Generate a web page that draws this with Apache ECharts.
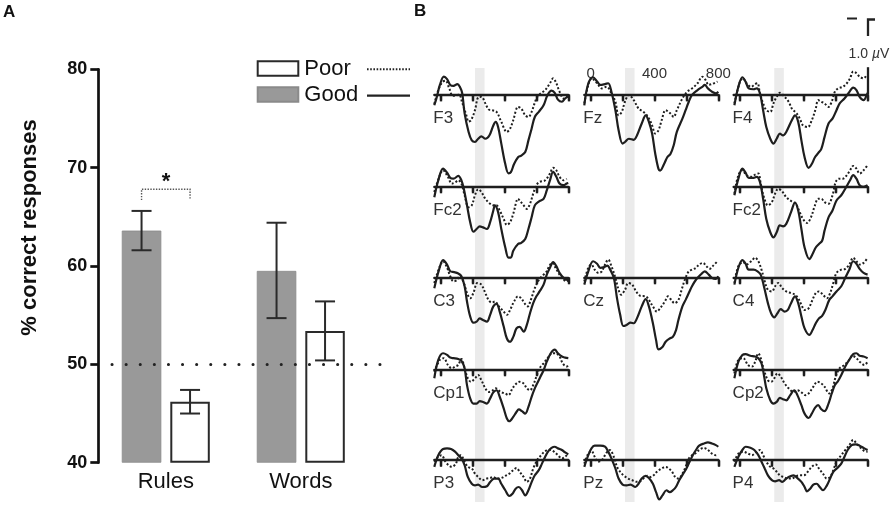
<!DOCTYPE html>
<html><head><meta charset="utf-8">
<script src="https://cdn.jsdelivr.net/npm/echarts@6/dist/echarts.min.js"></script>
<style>html,body{margin:0;padding:0;background:#fff}#c{width:892px;height:505px}</style>
</head><body><div id="c"></div>
<script>
// ================= Panel A data =================
const categories = ['Rules', 'Words'];
const goodMeans = [63.6, 59.5];
const poorMeans = [46.2, 53.4];
const goodErrLow = [61.6, 54.7];
const goodErrHigh = [65.6, 64.4];
const poorErrLow = [45.0, 50.4];
const poorErrHigh = [47.4, 56.4];
const chanceLevel = 50;
const sigBracket = [67.8, 66.7]; // bracket top, bracket feet (Rules)

// ================= Panel B data (time in ms, amplitude in µV) =================
const erpTickTimes = [0, 200, 400, 600, 800];
const erpTimeLabels = [0, 400, 800];
const shadedWindow = [215, 275];
const scaleBarMicroV = 1.0;

const F3_good = [[-40,-0.40],[-25,-0.11],[-5,0.35],[20,0.65],[40,0.56],[60,0.35],[80,0.31],[105,0.38],[120,0.28],[135,0.04],[150,-0.70],[175,-1.38],[195,-1.69],[215,-1.75],[235,-1.63],[255,-1.54],[280,-1.63],[305,-1.51],[330,-1.14],[345,-1.01],[360,-1.20],[380,-1.81],[405,-2.56],[425,-2.90],[440,-2.86],[460,-2.56],[485,-2.31],[505,-2.25],[530,-2.12],[550,-1.69],[570,-1.26],[590,-0.83],[615,-0.64],[645,-0.40],[670,-0.02],[695,0.14],[715,0.06],[735,-0.19],[760,-0.27],[780,-0.15],[800,-0.06]];
const F3_poor = [[-40,-0.35],[-15,0.15],[10,0.45],[30,0.5],[55,0.2],[75,-0.05],[95,-0.05],[115,0.0],[135,-0.3],[160,-0.75],[175,-1.0],[190,-0.95],[215,-0.58],[235,-0.11],[255,-0.09],[280,-0.33],[300,-0.55],[320,-0.58],[350,-0.64],[380,-1.01],[415,-1.38],[435,-1.26],[455,-0.95],[485,-0.46],[505,-0.52],[530,-0.77],[550,-0.83],[570,-0.64],[600,-0.15],[620,0.0],[655,0.16],[685,0.41],[705,0.59],[725,0.41],[745,0.10],[770,-0.15],[790,-0.09],[800,-0.05]];
const Fz_good = [[-40,-0.40],[-15,0.40],[15,0.63],[40,0.47],[60,0.35],[90,0.38],[110,0.41],[130,0.10],[155,-0.58],[175,-1.32],[200,-1.81],[215,-1.75],[240,-1.63],[270,-1.67],[290,-1.51],[320,-1.07],[345,-0.77],[365,-1.01],[385,-1.44],[405,-2.19],[425,-2.74],[435,-2.80],[460,-2.56],[480,-2.31],[500,-2.19],[520,-1.88],[540,-1.38],[575,-0.89],[595,-0.58],[615,-0.27],[635,-0.02],[670,0.16],[700,0.28],[715,0.35],[735,0.22],[760,0.10],[785,0.04],[800,0.10]];
const Fz_poor = [[-40,-0.33],[-15,0.35],[5,0.59],[40,0.41],[70,0.22],[100,0.28],[130,0.04],[155,-0.27],[175,-0.77],[195,-0.64],[215,-0.27],[240,-0.02],[270,-0.21],[300,-0.52],[330,-0.64],[360,-0.83],[385,-1.14],[405,-1.44],[425,-1.32],[445,-0.95],[470,-0.58],[500,-0.70],[520,-0.83],[540,-0.58],[575,-0.15],[605,0.10],[635,0.22],[670,0.41],[700,0.65],[720,0.53],[740,0.35],[760,0.38],[795,0.47]];
const F4_good = [[-35,-0.40],[-10,0.28],[15,0.63],[35,0.47],[55,0.22],[85,0.19],[105,0.22],[125,0.04],[145,-0.58],[165,-1.20],[190,-1.63],[210,-1.81],[230,-1.63],[250,-1.44],[270,-1.51],[290,-1.38],[325,-0.95],[345,-0.77],[365,-1.01],[385,-1.69],[405,-2.31],[430,-2.70],[450,-2.56],[470,-2.31],[490,-2.16],[510,-2.0],[530,-1.57],[555,-1.07],[580,-0.89],[605,-0.58],[625,-0.33],[655,-0.15],[680,0.04],[710,0.25],[730,0.16],[750,-0.09],[775,-0.21],[795,-0.02],[800,0.06]];
const F4_poor = [[-35,-0.33],[0,0.47],[20,0.59],[40,0.41],[70,0.28],[95,0.38],[110,0.41],[125,0.04],[145,-0.33],[165,-0.58],[190,-0.64],[210,-0.33],[230,-0.09],[250,0.06],[280,-0.09],[305,-0.27],[325,-0.52],[355,-0.70],[375,-0.89],[395,-1.14],[425,-1.20],[450,-0.95],[475,-0.52],[490,-0.21],[510,-0.27],[530,-0.33],[555,-0.46],[575,-0.27],[595,0.10],[615,0.22],[645,0.28],[670,0.41],[690,0.59],[710,0.84],[730,0.78],[750,0.65],[775,0.59],[795,0.72]];
const Fc2L_good = [[-40,-0.40],[-15,0.22],[15,0.65],[40,0.50],[60,0.31],[80,0.28],[110,0.38],[130,0.22],[145,-0.09],[165,-0.70],[185,-1.32],[205,-1.67],[225,-1.57],[245,-1.47],[265,-1.51],[290,-1.57],[310,-1.32],[330,-0.89],[340,-0.70],[360,-0.95],[380,-1.57],[405,-2.25],[425,-2.62],[440,-2.62],[455,-2.37],[485,-2.12],[505,-2.08],[530,-1.94],[550,-1.57],[570,-1.14],[590,-0.70],[615,-0.56],[645,-0.46],[665,-0.15],[685,0.22],[705,0.53],[725,0.35],[745,0.10],[770,0.04],[790,0.10],[800,0.12]];
const Fc2L_poor = [[-40,-0.21],[-5,0.41],[15,0.59],[45,0.35],[70,0.10],[90,0.14],[110,0.22],[130,0.10],[150,-0.33],[175,-0.77],[195,-0.70],[215,-0.33],[235,-0.11],[255,-0.21],[280,-0.46],[310,-0.64],[330,-0.70],[350,-0.70],[370,-0.89],[395,-1.20],[415,-1.42],[435,-1.32],[455,-1.01],[485,-0.46],[495,-0.52],[520,-0.70],[540,-0.83],[560,-0.64],[580,-0.27],[600,0.04],[620,0.16],[655,0.22],[685,0.47],[705,0.68],[725,0.59],[745,0.35],[770,0.22],[790,0.28]];
const Fc2R_good = [[-35,-0.33],[-10,0.28],[15,0.65],[35,0.50],[55,0.31],[85,0.31],[105,0.35],[125,0.16],[145,-0.46],[165,-1.20],[190,-1.69],[210,-1.88],[230,-1.69],[250,-1.44],[270,-1.47],[290,-1.38],[320,-0.95],[345,-0.60],[365,-0.89],[385,-1.57],[405,-2.25],[435,-2.68],[455,-2.49],[475,-2.25],[495,-2.12],[515,-2.0],[530,-1.63],[555,-1.14],[580,-0.89],[605,-0.52],[635,-0.33],[660,-0.09],[690,0.22],[710,0.41],[730,0.28],[750,0.04],[775,-0.02],[800,0.04]];
const Fc2R_poor = [[-35,-0.27],[-10,0.41],[15,0.59],[40,0.41],[70,0.35],[95,0.43],[115,0.47],[130,0.10],[150,-0.40],[175,-0.70],[200,-0.58],[220,-0.27],[240,-0.09],[265,-0.19],[290,-0.40],[325,-0.56],[350,-0.64],[370,-0.89],[395,-1.20],[420,-1.35],[445,-1.14],[470,-0.70],[490,-0.46],[510,-0.46],[530,-0.58],[555,-0.64],[580,-0.33],[600,0.16],[620,0.28],[645,0.28],[670,0.41],[690,0.59],[710,0.75],[730,0.65],[750,0.47],[775,0.59],[800,0.78]];
const C3_good = [[-40,-0.40],[-10,0.28],[15,0.63],[40,0.47],[60,0.22],[85,0.19],[110,0.14],[130,0.04],[150,-0.33],[165,-0.89],[185,-1.44],[205,-1.67],[225,-1.63],[245,-1.51],[265,-1.57],[290,-1.63],[310,-1.38],[330,-1.07],[350,-0.98],[370,-1.26],[395,-1.81],[415,-2.25],[435,-2.37],[455,-2.19],[475,-1.88],[495,-1.82],[520,-2.0],[540,-1.75],[560,-1.32],[580,-0.95],[600,-0.70],[620,-0.52],[645,-0.27],[665,0.10],[685,0.35],[705,0.56],[725,0.41],[745,0.16],[770,-0.02],[790,-0.09],[800,-0.09]];
const C3_poor = [[-40,-0.21],[-5,0.41],[15,0.59],[40,0.35],[60,0.04],[80,-0.15],[100,-0.11],[120,0.04],[145,-0.21],[165,-0.58],[185,-0.77],[205,-0.58],[230,-0.21],[255,-0.27],[280,-0.58],[300,-0.83],[320,-0.93],[340,-0.89],[365,-1.07],[395,-1.26],[415,-1.38],[435,-1.20],[460,-0.89],[485,-0.70],[505,-0.77],[525,-0.95],[545,-1.07],[565,-0.83],[590,-0.40],[610,-0.15],[635,0.04],[665,0.22],[680,0.41],[700,0.53],[720,0.35],[745,0.10],[765,-0.02],[785,-0.15],[800,-0.11]];
const Cz_good = [[-40,-0.27],[-15,0.22],[15,0.59],[40,0.50],[60,0.35],[85,0.38],[105,0.43],[120,0.31],[145,-0.02],[165,-0.77],[185,-1.38],[205,-1.79],[225,-1.75],[250,-1.67],[270,-1.69],[290,-1.51],[320,-1.07],[345,-0.80],[365,-1.07],[390,-1.69],[410,-2.31],[425,-2.65],[450,-2.56],[470,-2.37],[495,-2.25],[515,-2.19],[535,-1.94],[550,-1.57],[575,-1.07],[595,-0.83],[615,-0.58],[635,-0.33],[660,-0.09],[690,0.10],[715,0.22],[740,0.10],[760,-0.02],[785,-0.06],[800,0.04]];
const Cz_poor = [[-40,-0.15],[-15,0.35],[5,0.47],[25,0.28],[50,0.16],[70,0.22],[90,0.47],[110,0.65],[130,0.41],[155,-0.02],[175,-0.46],[190,-0.64],[215,-0.46],[235,-0.21],[260,-0.27],[285,-0.52],[310,-0.68],[345,-0.70],[365,-0.83],[390,-1.07],[415,-1.26],[435,-1.14],[465,-0.89],[485,-0.70],[505,-0.83],[525,-0.95],[550,-0.83],[570,-0.46],[590,-0.09],[615,0.22],[635,0.28],[660,0.35],[680,0.47],[705,0.53],[725,0.41],[745,0.31],[765,0.41],[795,0.59]];
const C4_good = [[-35,-0.27],[-10,0.35],[15,0.63],[35,0.50],[55,0.28],[85,0.28],[110,0.22],[130,0.10],[150,-0.33],[175,-0.95],[195,-1.32],[215,-1.47],[235,-1.32],[255,-1.17],[280,-1.26],[300,-1.20],[320,-0.95],[345,-0.70],[365,-0.95],[385,-1.44],[405,-1.88],[435,-2.12],[455,-1.94],[475,-1.69],[495,-1.51],[515,-1.42],[535,-1.20],[560,-0.83],[580,-0.70],[605,-0.52],[635,-0.33],[660,-0.02],[685,0.28],[710,0.59],[730,0.50],[750,0.31],[775,0.16],[800,0.10]];
const C4_poor = [[-35,-0.21],[-10,0.41],[20,0.56],[40,0.47],[70,0.59],[95,0.72],[115,0.59],[135,0.28],[155,-0.15],[175,-0.46],[200,-0.52],[220,-0.33],[240,-0.21],[265,-0.40],[290,-0.52],[320,-0.58],[345,-0.64],[365,-0.77],[385,-1.01],[405,-1.20],[430,-1.14],[450,-0.89],[475,-0.58],[495,-0.52],[520,-0.64],[545,-0.77],[565,-0.58],[585,-0.21],[605,0.16],[635,0.28],[660,0.31],[685,0.47],[710,0.72],[730,0.59],[750,0.47],[775,0.53],[800,0.72]];
const Cp1_good = [[-40,-0.33],[-15,0.35],[15,0.59],[40,0.53],[60,0.43],[80,0.41],[110,0.38],[130,0.31],[150,0.04],[165,-0.58],[185,-1.07],[205,-1.26],[225,-1.26],[245,-1.17],[265,-1.20],[290,-1.26],[310,-1.07],[330,-0.85],[350,-0.77],[370,-1.01],[395,-1.44],[415,-1.81],[430,-1.91],[455,-1.75],[475,-1.57],[490,-1.47],[510,-1.54],[530,-1.63],[550,-1.38],[570,-1.01],[590,-0.70],[610,-0.46],[625,-0.27],[645,-0.04],[665,0.28],[690,0.59],[715,0.72],[735,0.59],[760,0.47],[780,0.43],[800,0.41]];
const Cp1_poor = [[-40,-0.09],[-5,0.35],[20,0.41],[45,0.16],[70,0.04],[90,0.10],[110,0.16],[130,0.38],[150,0.04],[170,-0.33],[190,-0.46],[215,-0.33],[235,-0.21],[255,-0.40],[280,-0.70],[300,-0.83],[320,-0.80],[345,-0.70],[375,-0.83],[405,-0.89],[425,-0.95],[450,-0.70],[475,-0.52],[495,-0.46],[520,-0.52],[540,-0.70],[560,-0.77],[580,-0.58],[600,-0.27],[620,0.04],[645,0.22],[670,0.41],[700,0.59],[720,0.59],[745,0.47],[765,0.22],[790,0.10],[800,0.16]];
const Cp2_good = [[-35,-0.33],[-10,0.28],[15,0.53],[35,0.56],[65,0.50],[95,0.47],[115,0.41],[135,0.22],[150,-0.21],[165,-0.70],[190,-1.14],[210,-1.26],[230,-1.20],[250,-1.05],[270,-1.10],[290,-1.14],[315,-0.95],[340,-0.77],[360,-0.95],[385,-1.32],[405,-1.63],[430,-1.79],[450,-1.63],[470,-1.42],[490,-1.32],[510,-1.47],[530,-1.54],[555,-1.26],[575,-0.89],[595,-0.58],[615,-0.43],[635,-0.21],[660,0.10],[685,0.35],[710,0.56],[730,0.59],[750,0.50],[775,0.47],[800,0.41]];
const Cp2_poor = [[-35,-0.15],[-10,0.35],[20,0.41],[50,0.16],[75,0.10],[95,0.28],[115,0.59],[130,0.41],[150,-0.02],[175,-0.40],[195,-0.46],[215,-0.33],[235,-0.15],[255,-0.27],[280,-0.52],[305,-0.70],[335,-0.83],[360,-0.77],[385,-0.85],[410,-0.95],[430,-0.89],[460,-0.64],[485,-0.46],[510,-0.52],[530,-0.64],[560,-0.89],[580,-0.70],[600,-0.27],[625,0.04],[655,0.16],[685,0.35],[705,0.50],[730,0.41],[750,0.28],[780,0.16],[800,0.28]];
const P3_good = [[-40,-0.26],[-15,0.17],[15,0.40],[40,0.42],[65,0.40],[90,0.30],[110,0.17],[130,0.05],[150,-0.20],[170,-0.63],[195,-0.88],[215,-0.94],[235,-0.91],[260,-1.0],[290,-0.97],[310,-0.82],[335,-0.69],[360,-0.69],[380,-0.88],[405,-1.12],[430,-1.33],[450,-1.25],[470,-1.06],[490,-1.0],[510,-1.12],[530,-1.31],[550,-1.12],[570,-0.82],[590,-0.57],[615,-0.38],[635,-0.14],[655,0.11],[675,0.32],[695,0.44],[715,0.48],[735,0.42],[760,0.36],[780,0.27],[800,0.20]];
const P3_poor = [[-40,-0.07],[-15,0.11],[5,0.17],[30,-0.07],[50,-0.20],[70,-0.26],[95,-0.14],[110,0.11],[125,0.17],[150,-0.07],[170,-0.26],[195,-0.32],[215,-0.51],[235,-0.63],[260,-0.75],[290,-0.69],[310,-0.67],[330,-0.63],[350,-0.69],[380,-0.67],[405,-0.59],[430,-0.51],[455,-0.38],[475,-0.30],[495,-0.44],[520,-0.63],[540,-0.81],[560,-0.69],[580,-0.32],[605,-0.01],[630,0.17],[655,0.32],[685,0.36],[710,0.30],[735,0.17],[760,0.05],[780,0.11],[800,0.23]];
const Pz_good = [[-40,-0.26],[-15,0.17],[5,0.42],[25,0.52],[60,0.52],[90,0.48],[110,0.30],[130,0.05],[155,-0.32],[175,-0.69],[200,-0.91],[225,-0.94],[250,-0.91],[280,-1.0],[300,-0.88],[320,-0.69],[345,-0.59],[365,-0.67],[390,-0.88],[410,-1.19],[430,-1.46],[450,-1.31],[475,-1.12],[495,-1.19],[515,-1.12],[535,-0.99],[555,-0.75],[580,-0.51],[600,-0.32],[620,-0.07],[640,0.17],[660,0.36],[680,0.52],[710,0.60],[735,0.64],[760,0.60],[785,0.54],[800,0.48]];
const Pz_poor = [[-40,-0.14],[-15,0.23],[5,0.32],[25,0.11],[45,-0.07],[70,-0.01],[90,0.17],[105,0.30],[120,0.36],[145,0.11],[165,-0.26],[185,-0.44],[205,-0.57],[235,-0.69],[260,-0.75],[290,-0.81],[310,-0.79],[330,-0.69],[355,-0.59],[375,-0.63],[395,-0.57],[415,-0.44],[445,-0.32],[470,-0.26],[490,-0.32],[510,-0.44],[530,-0.63],[550,-0.69],[575,-0.51],[595,-0.26],[615,0.05],[635,0.17],[655,0.23],[680,0.36],[710,0.44],[735,0.36],[760,0.23],[785,0.17],[800,0.20]];
const P4_good = [[-35,-0.26],[-10,0.11],[15,0.36],[35,0.48],[65,0.44],[90,0.36],[115,0.17],[135,-0.07],[155,-0.32],[175,-0.57],[200,-0.75],[220,-0.79],[245,-0.75],[265,-0.81],[285,-0.72],[305,-0.63],[335,-0.57],[360,-0.67],[385,-0.81],[405,-1.0],[420,-1.16],[440,-1.06],[460,-0.91],[480,-0.88],[500,-1.0],[520,-1.12],[545,-0.94],[565,-0.69],[585,-0.44],[610,-0.30],[635,-0.14],[655,0.11],[675,0.36],[700,0.54],[725,0.57],[750,0.52],[780,0.42],[800,0.36]];
const P4_poor = [[-35,-0.07],[-10,0.23],[20,0.30],[50,0.23],[75,0.17],[100,0.27],[125,0.36],[145,0.17],[165,-0.07],[190,-0.26],[210,-0.32],[230,-0.44],[250,-0.57],[270,-0.63],[300,-0.69],[325,-0.69],[345,-0.63],[370,-0.57],[400,-0.57],[425,-0.44],[450,-0.26],[475,-0.17],[495,-0.32],[520,-0.51],[545,-0.69],[565,-0.63],[585,-0.38],[605,-0.07],[635,0.17],[660,0.36],[685,0.54],[710,0.73],[730,0.60],[750,0.48],[780,0.32],[800,0.30]];

// ================= layout / style =================
const FONT = '"Liberation Sans", Arial, Helvetica, sans-serif';
const INK = '#1e1e1e';
const CHART_H = 505;
const panelDefs = [
  {label:'F3', col:0,row:0,good:F3_good,poor:F3_poor},
  {label:'Fz', col:1,row:0,good:Fz_good,poor:Fz_poor},
  {label:'F4', col:2,row:0,good:F4_good,poor:F4_poor},
  {label:'Fc2',col:0,row:1,good:Fc2L_good,poor:Fc2L_poor},
  {label:'Fc2',col:2,row:1,good:Fc2R_good,poor:Fc2R_poor},
  {label:'C3', col:0,row:2,good:C3_good,poor:C3_poor},
  {label:'Cz', col:1,row:2,good:Cz_good,poor:Cz_poor},
  {label:'C4', col:2,row:2,good:C4_good,poor:C4_poor},
  {label:'Cp1',col:0,row:3,good:Cp1_good,poor:Cp1_poor},
  {label:'Cp2',col:2,row:3,good:Cp2_good,poor:Cp2_poor},
  {label:'P3', col:0,row:4,good:P3_good,poor:P3_poor},
  {label:'Pz', col:1,row:4,good:Pz_good,poor:Pz_poor},
  {label:'P4', col:2,row:4,good:P4_good,poor:P4_poor}
];
const colLeft = [434.3, 584.3, 733.6];
const colWidth = 134;
const rowBase = [94.4, 186.3, 277.3, 369.3, 459.8];
const pxPerMicroV = 27.2;
const vMinDefault = -3.0, vMax = 1.3;
const tMin = -40, tMax = 800;
const BAR_W = 39.5, BAR_GAP_PX = 9;
const BAR_OFFSET = (BAR_W + BAR_GAP_PX) / 2;

const grids = [{left:98.3, top:69.3, width:270, height:393.4}];
const xAxes = [{type:'category', gridIndex:0, data:categories,
  axisLine:{show:false}, axisTick:{show:false},
  axisLabel:{fontSize:22, color:'#111', margin:8, fontFamily:FONT}}];
const yAxes = [{type:'value', gridIndex:0, min:40, max:80, interval:10, startValue:40,
  axisLine:{show:true, lineStyle:{color:'#111', width:2.7}},
  axisTick:{show:true, length:8, lineStyle:{color:'#111', width:2.7}},
  axisLabel:{fontSize:18, fontWeight:'bold', color:'#111', margin:11, fontFamily:FONT},
  splitLine:{show:false}}];

const series = [];
series.push({type:'bar', name:'Good', xAxisIndex:0, yAxisIndex:0, data:goodMeans,
  barWidth:BAR_W, barGap:(BAR_GAP_PX/BAR_W*100)+'%', clip:false, silent:true,
  itemStyle:{color:'#999999', borderColor:'#8a8a8a', borderWidth:0.8},
  markLine:{silent:true, symbol:['none','none'], label:{show:false},
    lineStyle:{color:'#222', width:3, type:[0.1, 14], cap:'round'},
    data:[[{x:112, yAxis:chanceLevel},{x:383, yAxis:chanceLevel}]]}});
series.push({type:'bar', name:'Poor', xAxisIndex:0, yAxisIndex:0, data:poorMeans,
  barWidth:BAR_W, clip:false, silent:true,
  itemStyle:{color:'#ffffff', borderColor:'#2a2a2a', borderWidth:2}});
const errData = [];
categories.forEach((c,i)=>{ errData.push([i, goodErrLow[i], goodErrHigh[i], -1]); errData.push([i, poorErrLow[i], poorErrHigh[i], 1]); });
series.push({type:'custom', xAxisIndex:0, yAxisIndex:0, data:errData, silent:true, z:5,
  renderItem:function(params, api){
    const side = api.value(3);
    const lo = api.coord([api.value(0), api.value(1)]);
    const hi = api.coord([api.value(0), api.value(2)]);
    const x = lo[0] + side*BAR_OFFSET;
    const cap = 10;
    const st = {stroke:'#2a2a2a', lineWidth:2};
    return {type:'group', children:[
      {type:'line', shape:{x1:x, y1:lo[1], x2:x, y2:hi[1]}, style:st},
      {type:'line', shape:{x1:x-cap, y1:lo[1], x2:x+cap, y2:lo[1]}, style:st},
      {type:'line', shape:{x1:x-cap, y1:hi[1], x2:x+cap, y2:hi[1]}, style:st}
    ]};
  }});
series.push({type:'custom', xAxisIndex:0, yAxisIndex:0, data:[[0, sigBracket[0], sigBracket[1]]], silent:true, z:5,
  renderItem:function(params, api){
    const top = api.coord([api.value(0), api.value(1)]);
    const foot = api.coord([api.value(0), api.value(2)]);
    const x1 = top[0]-BAR_OFFSET, x2 = top[0]+BAR_OFFSET;
    return {type:'polyline', shape:{points:[[x1,foot[1]],[x1,top[1]],[x2,top[1]],[x2,foot[1]]]},
      style:{stroke:'#555', lineWidth:1.4, lineDash:[1.4,1.4], fill:null}};
  }});

// shaded latency window bands (one per column, spanning all rows)
for (let c=0;c<3;c++){
  const g = grids.length;
  grids.push({left:colLeft[c], width:colWidth, top:68, height:434});
  xAxes.push({type:'value', gridIndex:g, min:tMin, max:tMax, show:false});
  yAxes.push({type:'value', gridIndex:g, min:0, max:1, show:false});
  series.push({type:'line', xAxisIndex:xAxes.length-1, yAxisIndex:yAxes.length-1, data:[[tMin,0]],
    showSymbol:false, silent:true, z:0, lineStyle:{opacity:0},
    markArea:{silent:true, itemStyle:{color:'#ebebeb'}, data:[[{xAxis:shadedWindow[0]},{xAxis:shadedWindow[1]}]]}});
}

const graphics = [];
const lineSt = {color:INK, width:2.3};
panelDefs.forEach(p=>{
  const base = rowBase[p.row];
  // keep the panel box inside the canvas (ECharts clamps boxes otherwise)
  const vMin = Math.max(vMinDefault, -(CHART_H - 1.5 - base)/pxPerMicroV);
  // main panel grid: baseline axis with downward ticks
  const g = grids.length;
  grids.push({left:colLeft[p.col], width:colWidth, top:base - vMax*pxPerMicroV, height:(vMax-vMin)*pxPerMicroV});
  const yIdx = yAxes.length;
  yAxes.push({type:'value', gridIndex:g, min:vMin, max:vMax, show:false});
  const xb = xAxes.length;
  xAxes.push({type:'value', gridIndex:g, position:'bottom', min:tMin, max:tMax, z:1,
    axisLine:{show:true, onZero:true, onZeroAxisIndex:yIdx, lineStyle:lineSt},
    axisTick:{show:true, inside:false, length:7, customValues:erpTickTimes, lineStyle:lineSt},
    axisLabel:{show:false}, splitLine:{show:false}});
  series.push({type:'line', name:p.label+' poor', xAxisIndex:xb, yAxisIndex:yIdx, data:p.poor,
    showSymbol:false, smooth:0.35, silent:true, z:3,
    lineStyle:{color:INK, width:2, type:[2,2]}});
  const good = {type:'line', name:p.label+' good', xAxisIndex:xb, yAxisIndex:yIdx, data:p.good,
    showSymbol:false, smooth:0.35, silent:true, z:3,
    lineStyle:{color:INK, width:2.2}};
  if (p.label==='F4'){
    good.markLine = {silent:true, symbol:['none','none'], label:{show:false},
      lineStyle:{color:INK, width:2.3, type:'solid'},
      data:[[{coord:[tMax,0]},{coord:[tMax,scaleBarMicroV]}]]};
  }
  series.push(good);
  // helper grid whose top edge sits on the baseline: upward tick halves + time labels
  const h = grids.length;
  grids.push({left:colLeft[p.col], width:colWidth, top:base, height:6});
  yAxes.push({type:'value', gridIndex:h, min:0, max:1, show:false});
  xAxes.push({type:'value', gridIndex:h, position:'top', min:tMin, max:tMax, z:1,
    axisLine:{show:false},
    axisTick:{show:true, inside:false, length:5, customValues:erpTickTimes, lineStyle:lineSt},
    axisLabel:{show:p.label==='Fz', customValues:erpTimeLabels, fontSize:15, color:'#333', margin:13, fontFamily:FONT},
    splitLine:{show:false}});
  graphics.push({type:'text', x:colLeft[p.col]-1, y:base+24,
    style:{text:p.label, font:'17px '+FONT, fill:'#333', align:'left', verticalAlign:'middle'}});
});

// annotations
graphics.push({type:'text', x:3, y:12.5, style:{text:'A', font:'bold 17px '+FONT, fill:'#111', verticalAlign:'middle'}});
graphics.push({type:'text', x:414, y:11.5, style:{text:'B', font:'bold 17px '+FONT, fill:'#111', verticalAlign:'middle'}});
graphics.push({type:'text', x:30, y:227.5, rotation:Math.PI/2,
  style:{text:'% correct responses', font:'bold 22px '+FONT, fill:'#111', align:'center', verticalAlign:'middle'}});
graphics.push({type:'text', x:166, y:182, style:{text:'*', font:'bold 22px '+FONT, fill:'#111', align:'center', verticalAlign:'middle'}});
graphics.push({type:'line', shape:{x1:367, y1:69.3, x2:410, y2:69.3}, style:{stroke:'#222', lineWidth:2, lineDash:[1.6,1.6]}});
graphics.push({type:'line', shape:{x1:367, y1:95.7, x2:410, y2:95.7}, style:{stroke:'#222', lineWidth:2.2}});
graphics.push({type:'text', x:869, y:54, style:{text:'1.0 {i|µ}V', font:'14px '+FONT, fill:'#333', align:'center', verticalAlign:'middle',
  rich:{i:{fontStyle:'italic', fontSize:14, fontFamily:FONT, fill:'#333'}}}});
graphics.push({type:'line', shape:{x1:847, y1:18.5, x2:857, y2:18.5}, style:{stroke:'#222', lineWidth:2}});
graphics.push({type:'polyline', shape:{points:[[868,36],[868,19.5],[875,19.5]]}, style:{stroke:'#222', lineWidth:2.3, fill:null}});

const chart = echarts.init(document.getElementById('c'), null, {renderer:'canvas'});
chart.setOption({
  animation:false,
  backgroundColor:'#ffffff',
  textStyle:{fontFamily:FONT},
  grid:grids, xAxis:xAxes, yAxis:yAxes, series:series,
  legend:{data:['Poor','Good'], orient:'vertical', left:251.7, top:52.5, itemWidth:40.6, itemHeight:14.7,
    itemGap:4, selectedMode:false, icon:'rect',
    textStyle:{fontSize:22, color:'#111', lineHeight:22, padding:[0,0,0,1], fontFamily:FONT}},
  graphic:graphics
});
</script></body></html>
